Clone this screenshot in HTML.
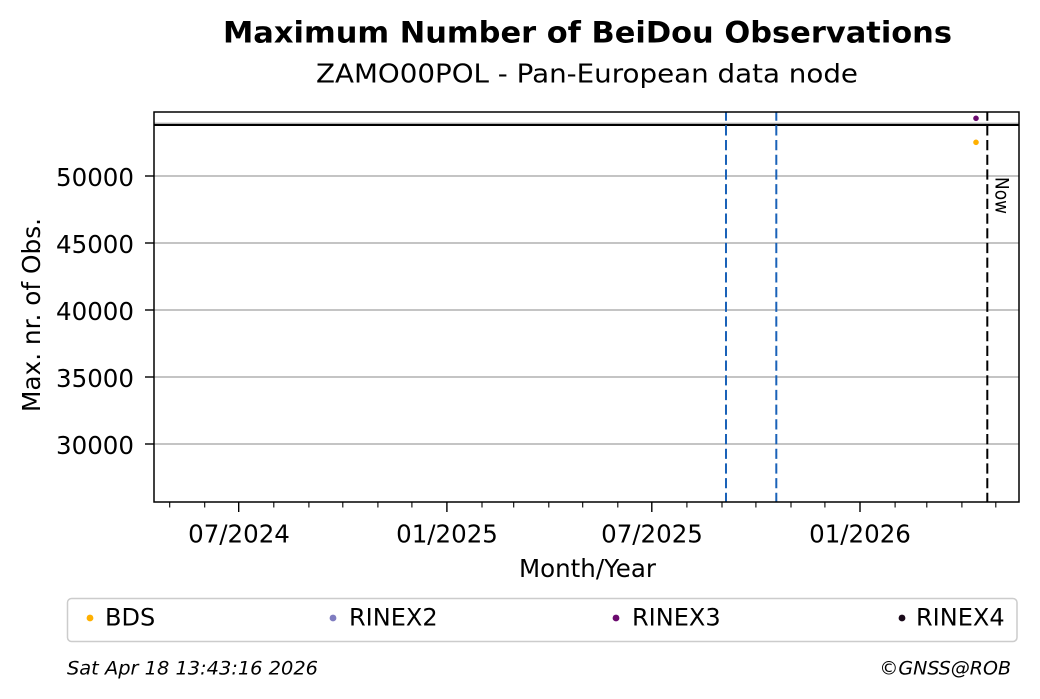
<!DOCTYPE html>
<html>
<head>
<meta charset="utf-8">
<style>
  html, body { margin: 0; padding: 0; background: #fff; }
  svg { display: block; }
  text { font-family: "DejaVu Sans", "Liberation Sans", sans-serif; fill: #000; }
</style>
</head>
<body>
<svg width="1040" height="699" viewBox="0 0 1040 699" xmlns="http://www.w3.org/2000/svg">
  <rect x="0" y="0" width="1040" height="699" fill="#fff"/>

  <!-- Titles -->
  <text x="587.5" y="42.7" font-size="29" font-weight="bold" text-anchor="middle" textLength="729" lengthAdjust="spacingAndGlyphs">Maximum Number of BeiDou Observations</text>
  <text x="587" y="82.7" font-size="25.5" text-anchor="middle" textLength="542" lengthAdjust="spacingAndGlyphs">ZAMO00POL - Pan-European data node</text>

  <defs>
    <clipPath id="ax"><rect x="154" y="112" width="865" height="390"/></clipPath>
  </defs>

  <!-- Grid -->
  <g stroke="#b0b0b0" stroke-width="1.4">
    <line x1="154" y1="176" x2="1019" y2="176"/>
    <line x1="154" y1="243" x2="1019" y2="243"/>
    <line x1="154" y1="310" x2="1019" y2="310"/>
    <line x1="154" y1="377" x2="1019" y2="377"/>
    <line x1="154" y1="444" x2="1019" y2="444"/>
    <line x1="154" y1="123.3" x2="1019" y2="123.3"/>
  </g>

  <!-- Horizontal black line -->
  <line x1="154" y1="125" x2="1019" y2="125" stroke="#000" stroke-width="2"/>

  <g clip-path="url(#ax)">
    <!-- Blue dashed vertical lines -->
    <line x1="726" y1="110.6" x2="726" y2="502" stroke="#1a62b8" stroke-width="2" stroke-dasharray="10.2 4.5"/>
    <line x1="776.3" y1="110.6" x2="776.3" y2="502" stroke="#1a62b8" stroke-width="2" stroke-dasharray="10.2 4.5"/>
    <!-- Now line -->
    <line x1="987.3" y1="110.6" x2="987.3" y2="502" stroke="#000" stroke-width="2" stroke-dasharray="10.2 4.5"/>
    <!-- Data points -->
    <circle cx="976" cy="118.3" r="2.8" fill="#6b0a6e"/>
    <circle cx="976" cy="142.3" r="2.8" fill="#ffb000"/>
  </g>

  <!-- Now label -->
  <text transform="translate(995.5,177) rotate(90)" font-size="18.5" textLength="37" lengthAdjust="spacingAndGlyphs">Now</text>

  <!-- Axes spines -->
  <rect x="154" y="112" width="865" height="390" fill="none" stroke="#000" stroke-width="1.5"/>

  <!-- Y ticks -->
  <g stroke="#000" stroke-width="1.4">
    <line x1="145" y1="176" x2="154" y2="176"/>
    <line x1="145" y1="243" x2="154" y2="243"/>
    <line x1="145" y1="310" x2="154" y2="310"/>
    <line x1="145" y1="377" x2="154" y2="377"/>
    <line x1="145" y1="444" x2="154" y2="444"/>
  </g>
  <g font-size="24.5" text-anchor="end">
    <text x="134" y="186">50000</text>
    <text x="134" y="253">45000</text>
    <text x="134" y="320">40000</text>
    <text x="134" y="387">35000</text>
    <text x="134" y="454">30000</text>
  </g>

  <!-- X ticks: major -->
  <g stroke="#000" stroke-width="1.4">
    <line x1="238.7" y1="502" x2="238.7" y2="512"/>
    <line x1="446.9" y1="502" x2="446.9" y2="512"/>
    <line x1="651.8" y1="502" x2="651.8" y2="512"/>
    <line x1="860" y1="502" x2="860" y2="512"/>
  </g>
  <!-- X ticks: minor -->
  <g stroke="#000" stroke-width="1.1">
    <line x1="169.7" y1="502" x2="169.7" y2="507.5"/>
    <line x1="204.7" y1="502" x2="204.7" y2="507.5"/>
    <line x1="273.8" y1="502" x2="273.8" y2="507.5"/>
    <line x1="308.9" y1="502" x2="308.9" y2="507.5"/>
    <line x1="342.8" y1="502" x2="342.8" y2="507.5"/>
    <line x1="377.9" y1="502" x2="377.9" y2="507.5"/>
    <line x1="411.9" y1="502" x2="411.9" y2="507.5"/>
    <line x1="482" y1="502" x2="482" y2="507.5"/>
    <line x1="513.7" y1="502" x2="513.7" y2="507.5"/>
    <line x1="548.8" y1="502" x2="548.8" y2="507.5"/>
    <line x1="582.7" y1="502" x2="582.7" y2="507.5"/>
    <line x1="617.8" y1="502" x2="617.8" y2="507.5"/>
    <line x1="686.9" y1="502" x2="686.9" y2="507.5"/>
    <line x1="722" y1="502" x2="722" y2="507.5"/>
    <line x1="755.9" y1="502" x2="755.9" y2="507.5"/>
    <line x1="791" y1="502" x2="791" y2="507.5"/>
    <line x1="824.9" y1="502" x2="824.9" y2="507.5"/>
    <line x1="895.1" y1="502" x2="895.1" y2="507.5"/>
    <line x1="926.8" y1="502" x2="926.8" y2="507.5"/>
    <line x1="961.9" y1="502" x2="961.9" y2="507.5"/>
    <line x1="995.8" y1="502" x2="995.8" y2="507.5"/>
  </g>
  <g font-size="24.5" text-anchor="middle">
    <text x="239" y="542.7">07/2024</text>
    <text x="447" y="542.7">01/2025</text>
    <text x="652" y="542.7">07/2025</text>
    <text x="860" y="542.7">01/2026</text>
  </g>

  <!-- Axis labels -->
  <text x="587.5" y="577" font-size="24.5" text-anchor="middle">Month/Year</text>
  <text transform="translate(40,315) rotate(-90)" font-size="24.5" text-anchor="middle" textLength="194" lengthAdjust="spacingAndGlyphs">Max. nr. of Obs.</text>

  <!-- Legend -->
  <rect x="67.5" y="598.5" width="949.5" height="43" rx="4" ry="4" fill="#fff" stroke="#cccccc" stroke-width="1.5"/>
  <circle cx="90" cy="618" r="3.4" fill="#ffb000"/>
  <text x="105" y="625.5" font-size="24">BDS</text>
  <circle cx="333" cy="618" r="3.4" fill="#7f7cc0"/>
  <text x="349" y="625.5" font-size="24">RINEX2</text>
  <circle cx="616" cy="618" r="3.4" fill="#6b0a6e"/>
  <text x="632" y="625.5" font-size="24">RINEX3</text>
  <circle cx="902" cy="618" r="3.4" fill="#1a0a1a"/>
  <text x="916" y="625.5" font-size="24">RINEX4</text>

  <!-- Footer -->
  <text x="67" y="674.5" font-size="19" font-style="italic" textLength="251" lengthAdjust="spacingAndGlyphs">Sat Apr 18 13:43:16 2026</text>
  <text x="1011" y="674.5" font-size="19" font-style="italic" text-anchor="end">©GNSS@ROB</text>
</svg>
</body>
</html>
